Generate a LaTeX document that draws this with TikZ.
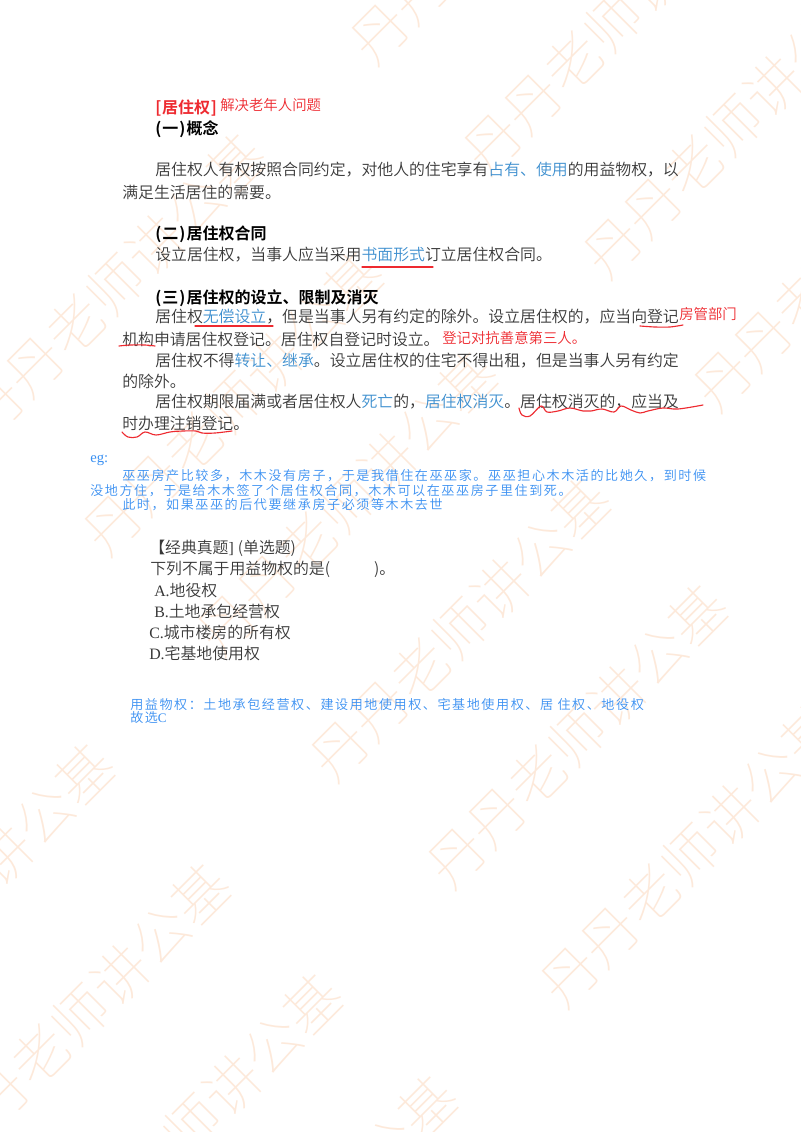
\documentclass[tikz,border=0pt]{standalone}
\usepackage{fontspec}
\setmainfont{Noto Sans CJK SC}[BoldFont={Noto Sans CJK SC Bold}]
\newfontfamily\lightcjk{Noto Sans CJK SC DemiLight}
\newfontfamily\thincjk{Noto Sans CJK SC Thin}
\newfontfamily\notecjk{Noto Sans CJK SC DemiLight}[LetterSpace=12]
\newfontfamily\redcjk{Noto Sans CJK SC DemiLight}
\newfontfamily\latn{Liberation Serif}
\definecolor{wm}{HTML}{FDE9DA}
\definecolor{bodyc}{HTML}{383838}
\definecolor{hl}{HTML}{3D8FCF}
\definecolor{noteblue}{HTML}{3A90F2}
\definecolor{redc}{HTML}{EE2A30}
\newcommand{\hlt}[1]{{\color{hl}#1}}
\newcommand{\lp}{(\kern0.8pt}
\newcommand{\rp}{\kern0.8pt)\kern0.8pt}
\tikzset{
  wmark/.style={rotate=45,text=wm,font=\fontsize{42.5pt}{44pt}\selectfont\thincjk,inner sep=0pt},
  body/.style={anchor=west,inner sep=0pt,text=bodyc,font=\fontsize{11.9pt}{14pt}\selectfont\lightcjk},
  head/.style={anchor=west,inner sep=0pt,text=black,font=\fontsize{12pt}{14pt}\selectfont\bfseries},
  title/.style={anchor=west,inner sep=0pt,text=redc,font=\fontsize{12pt}{14pt}\selectfont\bfseries},
  redn/.style={anchor=west,inner sep=0pt,text=redc,font=\fontsize{10.8pt}{12pt}\selectfont\redcjk},
  bluen/.style={anchor=west,inner sep=0pt,text=noteblue,font=\fontsize{9.8pt}{11pt}\selectfont\notecjk},
  ink/.style={draw=redc,line width=0.85pt,line cap=round,line join=round}
}
\begin{document}
\begin{tikzpicture}[x=0.75pt,y=-0.75pt]
\useasboundingbox (0,0) rectangle (800,1132);
\fill[white] (0,0) rectangle (800,1132);
\begin{scope}
\clip (0,0) rectangle (800,1132);
\foreach \i/\cx/\cy in {1/500/-88,2/613/22,3/733/126,4/843/259,5/115/285,6/233/403,7/347/503,8/460/629,9/577/736,10/690/855,11/-36/895,12/80/1015,13/192/1125,14/307/1227}{
  \node[wmark] (wm\i) at (\cx,\cy) {丹丹老师讲公基};
}
\end{scope}
\node[title] (t1) at (155,108) {[\kern0.6pt居住权\kern0.6pt]};
\node[redn] (t2) at (220,105) {解决老年人问题};
\node[head] (h1) at (155,129) {\lp 一\rp 概念};
\node[body] (p1) at (155,170) {居住权人有权按照合同约定，对他人的住宅享有\hlt{占有、使用}的用益物权，以};
\node[body] (p2) at (122,192) {满足生活居住的需要。};
\node[head] (h2) at (155,234) {\lp 二\rp 居住权合同};
\node[body] (p3) at (155,255) {设立居住权，当事人应当采用\hlt{书面形式}订立居住权合同。};
\node[head] (h3) at (155,298) {\lp 三\rp 居住权的设立、限制及消灭};
\node[body] (p4) at (155,317) {居住权\hlt{无偿设立}，但是当事人另有约定的除外。设立居住权的，应当向登记};
\node[redn] (r1) at (679,314) {房管部门};
\node[body] (p5) at (122,339) {机构申请居住权登记。居住权自登记时设立。};
\node[redn] (r2) at (442,338) {登记对抗善意第三人。};
\node[body] (p6) at (155,361) {居住权不得\hlt{转让、继承}。设立居住权的住宅不得出租，但是当事人另有约定};
\node[body] (p7) at (122,381) {的除外。};
\node[body] (p8) at (155,402) {居住权期限届满或者居住权人\hlt{死亡}的，\hlt{居住权消灭}。居住权消灭的，应当及};
\node[body] (p9) at (122,423) {时办理注销登记。};
\node[bluen] (e0) at (90,460) {{\latn\fontsize{11pt}{12pt}\selectfont eg:}};
\node[bluen] (e1) at (122,476) {巫巫房产比较多，木木没有房子，于是我借住在巫巫家。巫巫担心木木活的比她久，到时候};
\node[bluen] (e2) at (90,491) {没地方住，于是给木木签了个居住权合同，木木可以在巫巫房子里住到死。};
\node[bluen] (e3) at (122,505) {此时，如果巫巫的后代要继承房子必须等木木去世};
\node[body] (q0) at (149,548) {【经典真题{\latn ]}\hspace{3pt}(单选题)};
\node[body] (q1) at (150,569) {下列不属于用益物权的是(\hspace{33pt})。};
\node[body] (qa) at (154,590) {{\latn A.}地役权};
\node[body] (qb) at (154,611) {{\latn B.}土地承包经营权};
\node[body] (qc) at (149,632) {{\latn C.}城市楼房的所有权};
\node[body] (qd) at (149,653) {{\latn D.}宅基地使用权};
\node[bluen] (a1) at (130,704) {用益物权：土地承包经营权、建设用地使用权、宅基地使用权、居 住权、地役权};
\node[bluen] (a2) at (130,718) {故选{\latn C}};
% hand-drawn marks
\draw[ink] (362,267) -- (433,267);
\draw[ink] (195,326) -- (273,326);
\draw[ink] plot[smooth] coordinates {(640,326) (655,327) (670,327) (683,325)};
\draw[ink] plot[smooth] coordinates {(119,346) (130,345) (145,345) (155,346)};
\draw[ink] plot[smooth,tension=0.6] coordinates {(519,408)(522,415)(530,416)(541,406)(547,412)(558,411)(570,408)(583,411)(591,411)(602,409)(614,412)(621,406)(631,410)(640,413)(648,411)(663,408)(678,409)(703,405)};
\draw[ink] plot[smooth,tension=0.6] coordinates {(122,432)(128,437)(137,437)(145,432)(156,435)(170,432)(183,431)(196,431)(202,433)(215,433)(232,431)};
\end{tikzpicture}
\end{document}
